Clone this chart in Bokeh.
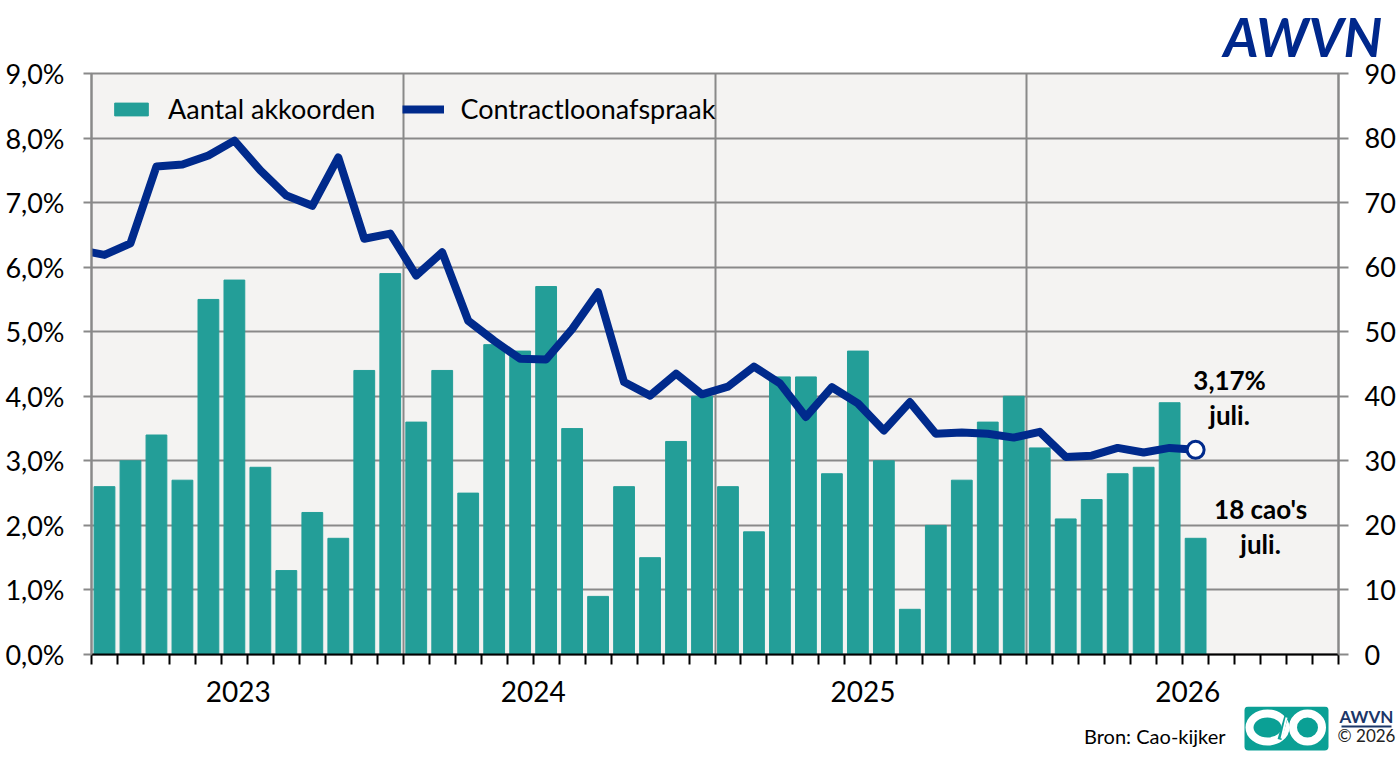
import pandas as pd
from bokeh.plotting import figure
from bokeh.layouts import column
from bokeh.models import (ColumnDataSource, Range1d, LinearAxis, FixedTicker,
                          Legend, LegendItem, Label, Title)
from bokeh.core.properties import value
from bokeh.embed import file_html
from bokeh.resources import INLINE

# contractloonafspraak (%), dec 2022 t/m jul 2026
line_months = [str(m) for m in pd.period_range("2022-12", "2026-07", freq="M")]
loon = [6.27,
        6.19, 6.37, 7.56, 7.59, 7.73, 7.96, 7.50, 7.11, 6.95, 7.70, 6.44, 6.52,
        5.87, 6.23, 5.17, 4.86, 4.58, 4.57, 5.04, 5.61, 4.22, 4.01, 4.35, 4.03,
        4.15, 4.46, 4.20, 3.68, 4.14, 3.89, 3.47, 3.91, 3.42, 3.44, 3.42, 3.36,
        3.45, 3.06, 3.08, 3.20, 3.13, 3.20, 3.17]

# aantal akkoorden, jan 2023 t/m jul 2026
bar_months = line_months[1:]
akkoorden = [26, 30, 34, 27, 55, 58, 29, 13, 22, 18, 44, 59,
             36, 44, 25, 48, 47, 57, 35, 9, 26, 15, 33, 40,
             26, 19, 43, 43, 28, 47, 30, 7, 20, 27, 36, 40,
             32, 21, 24, 28, 29, 39, 18]

years = ["2023", "2024", "2025", "2026"]
left_ticks = [0, 1, 2, 3, 4, 5, 6, 7, 8, 9]
right_ticks = [0, 10, 20, 30, 40, 50, 60, 70, 80, 90]

FONT = "Lato"
TEAL = "#239E98"
BLUE = "#002A8C"
NAVY = "#1B3668"
GRID = "#898989"
W = 1399


def month_x(m):
    y, mo = m.split("-")
    return (int(y) - 2023) * 12 + int(mo) - 1 + 0.5


# main chart
bar_src = ColumnDataSource(data={"x": [month_x(m) for m in bar_months], "n": akkoorden})
line_src = ColumnDataSource(data={"x": [month_x(m) for m in line_months], "v": loon})

p = figure(frame_width=1247, frame_height=581, x_range=Range1d(0, 48), y_range=Range1d(0, 9),
           output_backend="svg", toolbar_location=None, frame_align=False,
           min_border_left=91, min_border_right=W - 91 - 1247, min_border_top=73,
           min_border_bottom=52,
           background_fill_color="#F4F3F2", border_fill_color="white")
p.extra_y_ranges = {"right": Range1d(0, 90)}
p.outline_line_color = GRID
p.outline_line_width = 2

# logo top right
p.add_layout(Title(text="AWVN", align="left", offset=1132, standoff=5, vertical_align="top",
                   text_font=FONT, text_font_style="bold italic", text_font_size="54px",
                   text_color="#00288C"), "above")

p.ygrid.ticker = FixedTicker(ticks=left_ticks)
p.ygrid.grid_line_color = GRID
p.ygrid.grid_line_width = 2
p.xgrid.ticker = FixedTicker(ticks=[12, 24, 36])
p.xgrid.grid_line_color = GRID
p.xgrid.grid_line_width = 2

ya = p.yaxis[0]
ya.ticker = FixedTicker(ticks=left_ticks)
ya.major_label_overrides = {t: f"{t},0%" for t in left_ticks}
ya.axis_line_color = GRID
ya.axis_line_width = 2
ya.major_tick_line_color = GRID
ya.major_tick_line_width = 2
ya.major_tick_out = 8
ya.major_tick_in = 0
ya.minor_tick_line_color = None
ya.major_label_standoff = 19
ya.major_label_text_font = FONT
ya.major_label_text_font_size = "27px"
ya.major_label_text_color = "black"

ra = LinearAxis(y_range_name="right", ticker=FixedTicker(ticks=right_ticks))
ra.axis_line_color = GRID
ra.axis_line_width = 2
ra.major_tick_line_color = GRID
ra.major_tick_line_width = 2
ra.major_tick_out = 10
ra.major_tick_in = 0
ra.minor_tick_line_color = None
ra.major_label_standoff = 16
ra.major_label_text_font = FONT
ra.major_label_text_font_size = "27px"
ra.major_label_text_color = "black"
p.add_layout(ra, "right")

year_pos = [5.65, 17.0, 29.7, 42.2]
xa = p.xaxis[0]
xa.ticker = FixedTicker(ticks=year_pos, minor_ticks=list(range(0, 49)))
xa.major_label_overrides = {pos: y for pos, y in zip(year_pos, years)}
xa.axis_line_color = "black"
xa.axis_line_width = 2
xa.major_tick_line_color = None
xa.major_tick_out = 0
xa.major_tick_in = 0
xa.minor_tick_line_color = "black"
xa.minor_tick_line_width = 2
xa.minor_tick_out = 10
xa.minor_tick_in = 0
xa.major_label_standoff = 16
xa.major_label_text_font = FONT
xa.major_label_text_font_size = "28px"
xa.major_label_text_color = "black"

bars = p.vbar(x="x", top="n", width=0.8, source=bar_src, color=TEAL, y_range_name="right")
line = p.line(x="x", y="v", source=line_src, line_width=8, color=BLUE, line_join="round")
p.scatter(x=[month_x(line_months[-1])], y=[loon[-1]], size=17, fill_color="white",
          line_color=BLUE, line_width=3)

legend = Legend(items=[LegendItem(label="Aantal akkoorden", renderers=[bars]),
                       LegendItem(label="Contractloonafspraak", renderers=[line])],
                orientation="horizontal", location="top_left",
                background_fill_alpha=0, border_line_alpha=0,
                label_text_font=FONT, label_text_font_size="27px", label_text_color="black",
                glyph_width=42, glyph_height=16, spacing=27, label_standoff=16,
                margin=10, padding=9)
p.add_layout(legend)

last_x = month_x(line_months[-1])
pct = f"{loon[-1]:.2f}%".replace(".", ",")
p.add_layout(Label(x=last_x, y=loon[-1], x_offset=34, y_offset=52,
                   text=f"{pct}\njuli.", text_align="center", text_baseline="middle",
                   text_font=FONT, text_font_style="bold", text_font_size="26px",
                   text_line_height=1.1, text_color="black"))
p.add_layout(Label(x=month_x(bar_months[-1]), y=akkoorden[-1], y_range_name="right",
                   x_offset=65, y_offset=12,
                   text=f"{akkoorden[-1]} cao's\njuli.", text_align="center",
                   text_baseline="middle", text_font=FONT, text_font_style="bold",
                   text_font_size="26px", text_line_height=1.1, text_color="black"))

# footer: source and logos (coordinates are pixels of the footer strip)
FH = 49
foot = figure(frame_width=W, frame_height=FH, x_range=Range1d(0, W), y_range=Range1d(FH, 0),
              output_backend="svg", toolbar_location=None, frame_align=False,
              x_axis_location=None, y_axis_location=None, min_border=0,
              outline_line_color=None, background_fill_color="white")
foot.grid.visible = False
foot.text(x=[1225], y=[29], text=["Bron: Cao-kijker"], text_align="right",
          text_baseline="middle", text_font=value(FONT), text_font_size="20px",
          text_color="black")
foot.quad(left=[1244], right=[1328], top=[0], bottom=[44], fill_color="#0BA095",
          line_color=None, border_radius=4)
foot.ellipse(x=[1267, 1307], y=[21, 21], width=[36, 29], height=[28, 28],
             fill_color=None, line_color="white", line_width=8)
foot.segment(x0=[1279], y0=[33], x1=[1286], y1=[9], line_color="#0BA095", line_width=4)
foot.segment(x0=[1281], y0=[32], x1=[1286], y1=[11], line_color="white", line_width=2)
foot.text(x=[1366, 1366], y=[10, 29], text=["AWVN", "© 2026"], text_align="center",
          text_baseline="middle", text_font=value(FONT), text_font_size="17px",
          text_font_style=["bold", "normal"], text_color=[NAVY, "#222222"])
foot.segment(x0=[1341], y0=[20], x1=[1391], y1=[20], line_color=NAVY, line_width=2)

page = column(p, foot, spacing=0)
open("out.html", "w").write(file_html(page, INLINE))
